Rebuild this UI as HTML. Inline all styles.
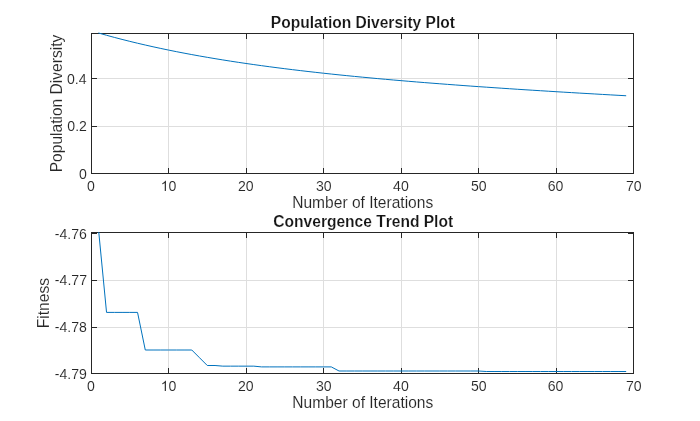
<!DOCTYPE html>
<html><head><meta charset="utf-8"><style>
html,body{margin:0;padding:0;background:#fff;width:700px;height:421px;overflow:hidden}
svg{display:block;will-change:transform}
text{font-family:"Liberation Sans",sans-serif;font-kerning:none}
</style></head><body>
<svg width="700" height="421" viewBox="0 0 700 421">
<rect width="700" height="421" fill="#fff"/>
<line x1="168.5" y1="33" x2="168.5" y2="174" stroke="#dedede"/>
<line x1="246.5" y1="33" x2="246.5" y2="174" stroke="#dedede"/>
<line x1="323.5" y1="33" x2="323.5" y2="174" stroke="#dedede"/>
<line x1="401.5" y1="33" x2="401.5" y2="174" stroke="#dedede"/>
<line x1="478.5" y1="33" x2="478.5" y2="174" stroke="#dedede"/>
<line x1="556.5" y1="33" x2="556.5" y2="174" stroke="#dedede"/>
<line x1="91" y1="78.5" x2="634" y2="78.5" stroke="#dedede"/>
<line x1="91" y1="126.5" x2="634" y2="126.5" stroke="#dedede"/>
<line x1="91.5" y1="174" x2="91.5" y2="168" stroke="#262626"/>
<line x1="91.5" y1="33" x2="91.5" y2="39" stroke="#262626"/>
<line x1="168.5" y1="174" x2="168.5" y2="168" stroke="#262626"/>
<line x1="168.5" y1="33" x2="168.5" y2="39" stroke="#262626"/>
<line x1="246.5" y1="174" x2="246.5" y2="168" stroke="#262626"/>
<line x1="246.5" y1="33" x2="246.5" y2="39" stroke="#262626"/>
<line x1="323.5" y1="174" x2="323.5" y2="168" stroke="#262626"/>
<line x1="323.5" y1="33" x2="323.5" y2="39" stroke="#262626"/>
<line x1="401.5" y1="174" x2="401.5" y2="168" stroke="#262626"/>
<line x1="401.5" y1="33" x2="401.5" y2="39" stroke="#262626"/>
<line x1="478.5" y1="174" x2="478.5" y2="168" stroke="#262626"/>
<line x1="478.5" y1="33" x2="478.5" y2="39" stroke="#262626"/>
<line x1="556.5" y1="174" x2="556.5" y2="168" stroke="#262626"/>
<line x1="556.5" y1="33" x2="556.5" y2="39" stroke="#262626"/>
<line x1="633.5" y1="174" x2="633.5" y2="168" stroke="#262626"/>
<line x1="633.5" y1="33" x2="633.5" y2="39" stroke="#262626"/>
<line x1="91" y1="78.5" x2="97" y2="78.5" stroke="#262626"/>
<line x1="634" y1="78.5" x2="628" y2="78.5" stroke="#262626"/>
<line x1="91" y1="126.5" x2="97" y2="126.5" stroke="#262626"/>
<line x1="634" y1="126.5" x2="628" y2="126.5" stroke="#262626"/>
<line x1="91" y1="173.5" x2="97" y2="173.5" stroke="#262626"/>
<line x1="634" y1="173.5" x2="628" y2="173.5" stroke="#262626"/>
<clipPath id="c1"><rect x="91" y="33" width="543" height="141"/></clipPath>
<rect x="91.5" y="33.5" width="542" height="140" fill="none" stroke="#262626" stroke-linejoin="round"/>
<polyline points="98.79,33.09 106.54,35.27 114.29,37.38 122.04,39.40 129.79,41.35 137.54,43.22 145.29,45.03 153.04,46.77 160.79,48.45 168.54,50.07 176.29,51.63 184.04,53.13 191.79,54.59 199.54,55.99 207.29,57.34 215.04,58.65 222.79,59.92 230.54,61.15 238.29,62.33 246.04,63.48 253.79,64.59 261.54,65.67 269.29,66.71 277.04,67.73 284.79,68.71 292.54,69.67 300.29,70.59 308.04,71.49 315.79,72.37 323.54,73.22 331.29,74.05 339.04,74.86 346.79,75.65 354.54,76.42 362.29,77.16 370.04,77.89 377.79,78.61 385.54,79.30 393.29,79.99 401.04,80.65 408.79,81.30 416.54,81.94 424.29,82.57 432.04,83.18 439.79,83.78 447.54,84.37 455.29,84.95 463.04,85.52 470.79,86.08 478.54,86.63 486.29,87.17 494.04,87.70 501.79,88.22 509.54,88.74 517.29,89.25 525.04,89.75 532.79,90.24 540.54,90.73 548.29,91.21 556.04,91.69 563.79,92.16 571.54,92.62 579.29,93.08 587.04,93.53 594.79,93.98 602.54,94.43 610.29,94.87 618.04,95.31 625.79,95.74" fill="none" stroke="#0072bd" stroke-width="1" stroke-linejoin="round" stroke-linecap="round"/>
<line x1="168.5" y1="232" x2="168.5" y2="374" stroke="#dedede"/>
<line x1="246.5" y1="232" x2="246.5" y2="374" stroke="#dedede"/>
<line x1="323.5" y1="232" x2="323.5" y2="374" stroke="#dedede"/>
<line x1="401.5" y1="232" x2="401.5" y2="374" stroke="#dedede"/>
<line x1="478.5" y1="232" x2="478.5" y2="374" stroke="#dedede"/>
<line x1="556.5" y1="232" x2="556.5" y2="374" stroke="#dedede"/>
<line x1="91" y1="280.5" x2="634" y2="280.5" stroke="#dedede"/>
<line x1="91" y1="327.5" x2="634" y2="327.5" stroke="#dedede"/>
<line x1="91.5" y1="374" x2="91.5" y2="368" stroke="#262626"/>
<line x1="91.5" y1="232" x2="91.5" y2="238" stroke="#262626"/>
<line x1="168.5" y1="374" x2="168.5" y2="368" stroke="#262626"/>
<line x1="168.5" y1="232" x2="168.5" y2="238" stroke="#262626"/>
<line x1="246.5" y1="374" x2="246.5" y2="368" stroke="#262626"/>
<line x1="246.5" y1="232" x2="246.5" y2="238" stroke="#262626"/>
<line x1="323.5" y1="374" x2="323.5" y2="368" stroke="#262626"/>
<line x1="323.5" y1="232" x2="323.5" y2="238" stroke="#262626"/>
<line x1="401.5" y1="374" x2="401.5" y2="368" stroke="#262626"/>
<line x1="401.5" y1="232" x2="401.5" y2="238" stroke="#262626"/>
<line x1="478.5" y1="374" x2="478.5" y2="368" stroke="#262626"/>
<line x1="478.5" y1="232" x2="478.5" y2="238" stroke="#262626"/>
<line x1="556.5" y1="374" x2="556.5" y2="368" stroke="#262626"/>
<line x1="556.5" y1="232" x2="556.5" y2="238" stroke="#262626"/>
<line x1="633.5" y1="374" x2="633.5" y2="368" stroke="#262626"/>
<line x1="633.5" y1="232" x2="633.5" y2="238" stroke="#262626"/>
<line x1="91" y1="233.5" x2="97" y2="233.5" stroke="#262626"/>
<line x1="634" y1="233.5" x2="628" y2="233.5" stroke="#262626"/>
<line x1="91" y1="280.5" x2="97" y2="280.5" stroke="#262626"/>
<line x1="634" y1="280.5" x2="628" y2="280.5" stroke="#262626"/>
<line x1="91" y1="327.5" x2="97" y2="327.5" stroke="#262626"/>
<line x1="634" y1="327.5" x2="628" y2="327.5" stroke="#262626"/>
<line x1="91" y1="373.5" x2="97" y2="373.5" stroke="#262626"/>
<line x1="634" y1="373.5" x2="628" y2="373.5" stroke="#262626"/>
<clipPath id="c2"><rect x="91" y="232" width="543" height="142"/></clipPath>
<rect x="91.5" y="232.5" width="542" height="141" fill="none" stroke="#262626" stroke-linejoin="round"/>
<polyline points="98.79,232.40 106.54,312.40 114.29,312.40 122.04,312.40 129.79,312.40 137.54,312.40 145.29,350.00 153.04,350.00 160.79,350.00 168.54,350.00 176.29,350.00 184.04,350.00 191.79,350.00 199.54,357.75 207.29,365.50 215.04,365.50 222.79,366.15 230.54,366.15 238.29,366.15 246.04,366.15 253.79,366.15 261.54,366.90 269.29,366.90 277.04,366.90 284.79,366.90 292.54,366.90 300.29,366.90 308.04,366.90 315.79,366.90 323.54,366.90 331.29,366.90 339.04,371.00 346.79,371.00 354.54,371.00 362.29,371.00 370.04,371.00 377.79,371.00 385.54,371.00 393.29,371.00 401.04,371.00 408.79,371.00 416.54,371.00 424.29,371.00 432.04,371.00 439.79,371.00 447.54,371.00 455.29,371.00 463.04,371.00 470.79,371.00 478.54,371.00 486.29,371.50 494.04,371.50 501.79,371.50 509.54,371.50 517.29,371.50 525.04,371.50 532.79,371.50 540.54,371.50 548.29,371.50 556.04,371.50 563.79,371.50 571.54,371.50 579.29,371.50 587.04,371.50 594.79,371.50 602.54,371.50 610.29,371.50 618.04,371.50 625.79,371.50" fill="none" stroke="#0072bd" stroke-width="1" stroke-linejoin="round" stroke-linecap="round"/>
<text transform="translate(0,27.70) scale(1,1.08)" x="270.86" y="0" style="font-size:15.57px;font-weight:bold;stroke:#fff;stroke-width:0.15px;fill:#161616">Population Diversity Plot</text>
<text transform="translate(0,226.60) scale(1,1.08)" x="273.36" y="0" style="font-size:15.57px;font-weight:bold;stroke:#fff;stroke-width:0.15px;fill:#161616">Convergence Trend Plot</text>
<text transform="translate(0,207.80) scale(1,1.1)" x="292.22" y="0" style="font-size:15.57px;stroke:#fff;stroke-width:0.1px;fill:#262626">Number of Iterations</text>
<text transform="translate(0,407.80) scale(1,1.1)" x="292.32" y="0" style="font-size:15.57px;stroke:#fff;stroke-width:0.1px;fill:#262626">Number of Iterations</text>
<text transform="translate(61.90,171.00) rotate(-90) scale(1,1.1)" x="-1.28" y="0" style="font-size:15.57px;stroke:#fff;stroke-width:0.1px;fill:#262626">Population Diversity</text>
<text transform="translate(48.90,326.90) rotate(-90) scale(1,1.1)" x="-1.28" y="0" style="font-size:15.57px;stroke:#fff;stroke-width:0.1px;fill:#262626">Fitness</text>
<text transform="translate(0,190.90) scale(1,1.0)" x="86.98" y="0" style="font-size:14.1px;stroke:#fff;stroke-width:0.1px;fill:#262626">0</text>
<text transform="translate(0,390.90) scale(1,1.0)" x="86.98" y="0" style="font-size:14.1px;stroke:#fff;stroke-width:0.1px;fill:#262626">0</text>
<path transform="translate(160.723,190.900) scale(0.006885,-0.006885)" d="M763,0 L583,0 L583,1147 C540,1106 483,1065 412,1023 C341,982 277,951 221,930 L221,1104 C322,1151 410,1209 485,1276 C560,1343 614,1408 645,1472 L763,1472 Z" fill="#262626" stroke="#fff" stroke-width="14.52"/>
<text x="168.565" y="190.900" style="font-size:14.1px;fill:#262626;stroke:#fff;stroke-width:0.1px;">0</text>
<path transform="translate(160.723,390.900) scale(0.006885,-0.006885)" d="M763,0 L583,0 L583,1147 C540,1106 483,1065 412,1023 C341,982 277,951 221,930 L221,1104 C322,1151 410,1209 485,1276 C560,1343 614,1408 645,1472 L763,1472 Z" fill="#262626" stroke="#fff" stroke-width="14.52"/>
<text x="168.565" y="390.900" style="font-size:14.1px;fill:#262626;stroke:#fff;stroke-width:0.1px;">0</text>
<text transform="translate(0,190.90) scale(1,1.0)" x="237.98" y="0" style="font-size:14.1px;stroke:#fff;stroke-width:0.1px;fill:#262626">20</text>
<text transform="translate(0,390.90) scale(1,1.0)" x="237.98" y="0" style="font-size:14.1px;stroke:#fff;stroke-width:0.1px;fill:#262626">20</text>
<text transform="translate(0,190.90) scale(1,1.0)" x="315.92" y="0" style="font-size:14.1px;stroke:#fff;stroke-width:0.1px;fill:#262626">30</text>
<text transform="translate(0,390.90) scale(1,1.0)" x="315.92" y="0" style="font-size:14.1px;stroke:#fff;stroke-width:0.1px;fill:#262626">30</text>
<text transform="translate(0,190.90) scale(1,1.0)" x="393.07" y="0" style="font-size:14.1px;stroke:#fff;stroke-width:0.1px;fill:#262626">40</text>
<text transform="translate(0,390.90) scale(1,1.0)" x="393.07" y="0" style="font-size:14.1px;stroke:#fff;stroke-width:0.1px;fill:#262626">40</text>
<text transform="translate(0,190.90) scale(1,1.0)" x="470.95" y="0" style="font-size:14.1px;stroke:#fff;stroke-width:0.1px;fill:#262626">50</text>
<text transform="translate(0,390.90) scale(1,1.0)" x="470.95" y="0" style="font-size:14.1px;stroke:#fff;stroke-width:0.1px;fill:#262626">50</text>
<text transform="translate(0,190.90) scale(1,1.0)" x="547.78" y="0" style="font-size:14.1px;stroke:#fff;stroke-width:0.1px;fill:#262626">60</text>
<text transform="translate(0,390.90) scale(1,1.0)" x="547.78" y="0" style="font-size:14.1px;stroke:#fff;stroke-width:0.1px;fill:#262626">60</text>
<text transform="translate(0,190.90) scale(1,1.0)" x="625.97" y="0" style="font-size:14.1px;stroke:#fff;stroke-width:0.1px;fill:#262626">70</text>
<text transform="translate(0,390.90) scale(1,1.0)" x="625.97" y="0" style="font-size:14.1px;stroke:#fff;stroke-width:0.1px;fill:#262626">70</text>
<text transform="translate(0,83.50) scale(1,1.0)" x="67.01" y="0" style="font-size:14.1px;stroke:#fff;stroke-width:0.1px;fill:#262626">0.4</text>
<text transform="translate(0,130.50) scale(1,1.0)" x="67.31" y="0" style="font-size:14.1px;stroke:#fff;stroke-width:0.1px;fill:#262626">0.2</text>
<text transform="translate(0,179.20) scale(1,1.0)" x="78.91" y="0" style="font-size:14.1px;stroke:#fff;stroke-width:0.1px;fill:#262626">0</text>
<text transform="translate(0,239.30) scale(1,1.0)" x="54.78" y="0" style="font-size:14.1px;stroke:#fff;stroke-width:0.1px;fill:#262626">-4.76</text>
<text transform="translate(0,285.30) scale(1,1.0)" x="54.87" y="0" style="font-size:14.1px;stroke:#fff;stroke-width:0.1px;fill:#262626">-4.77</text>
<text transform="translate(0,332.30) scale(1,1.0)" x="54.77" y="0" style="font-size:14.1px;stroke:#fff;stroke-width:0.1px;fill:#262626">-4.78</text>
<text transform="translate(0,379.30) scale(1,1.0)" x="54.83" y="0" style="font-size:14.1px;stroke:#fff;stroke-width:0.1px;fill:#262626">-4.79</text>
</svg>
</body></html>
